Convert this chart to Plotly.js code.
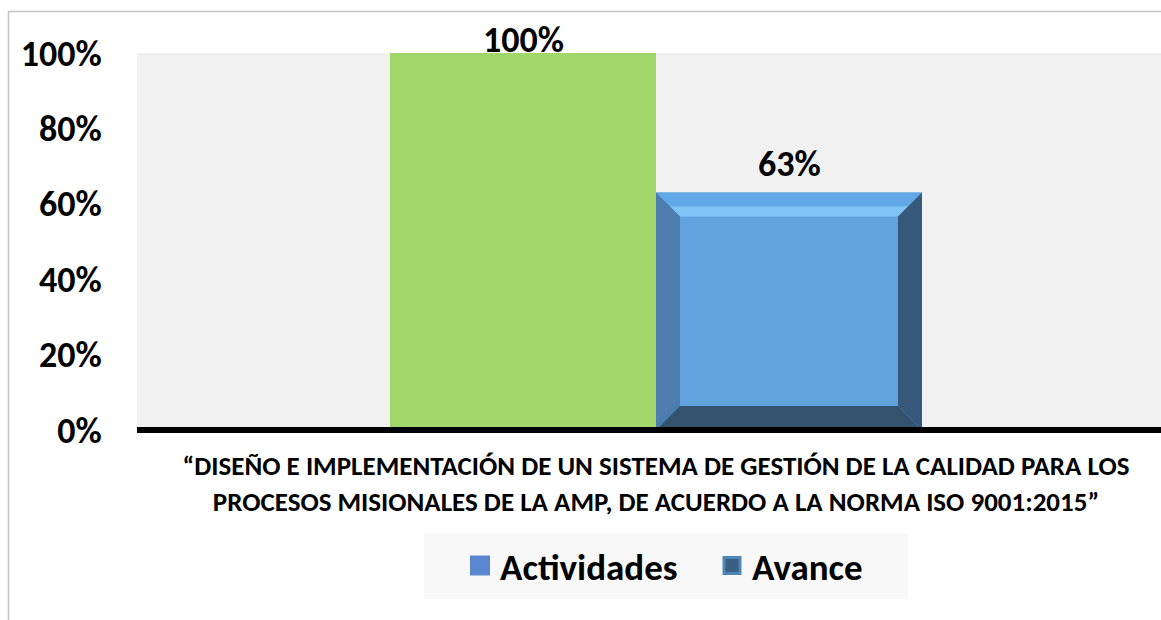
<!DOCTYPE html>
<html><head><meta charset="utf-8">
<script src="https://cdn.plot.ly/plotly-3.0.1.min.js"></script>
<style>html,body{margin:0;padding:0;background:#fff;overflow:hidden}</style>
</head><body><div id="chart" style="width:1161px;height:620px"></div>
<script>
const categories = ["“DISEÑO E IMPLEMENTACIÓN DE UN SISTEMA DE GESTIÓN DE LA CALIDAD PARA LOS<br>PROCESOS MISIONALES DE LA AMP, DE ACUERDO A LA NORMA ISO 9001:2015”"];
const seriesNames = ["Actividades", "Avance"];
const actividades = [1.00];
const avance = [0.63];
const yTickVals = [0, 0.2, 0.4, 0.6, 0.8, 1.0];
const yTickText = ["0%", "20%", "40%", "60%", "80%", "100%"];

const FONT = "Carlito, Lato, 'Open Sans', sans-serif";
const W = 1161, H = 620;
const M = {l: 137, r: 0, t: 53, b: 187};
const PW = W - M.l - M.r, PH = H - M.t - M.b;
const xRange = [-0.5, 0.4865];
const yRange = [-3 / 377, 1];
const bargap = 0.4875;
const groupW = 1 - bargap;

const green = '#a1d76a', blue = '#62a3df';

const traces = [
  {type: 'bar', name: seriesNames[0], x: categories, y: actividades, marker: {color: green},
   showlegend: false, hoverinfo: 'none'},
  {type: 'bar', name: seriesNames[1], x: categories, y: avance, marker: {color: blue},
   showlegend: false, hoverinfo: 'none'},
  {type: 'scatter', mode: 'markers', name: seriesNames[0], x: [null], y: [null],
   marker: {symbol: 'square', size: 16, color: '#5b86d0', line: {color: '#5b86d0', width: 4}}},
  {type: 'scatter', mode: 'markers', name: seriesNames[1], x: [null], y: [null],
   marker: {symbol: 'square', size: 16, color: '#3b5f80', line: {color: '#4f86ba', width: 3}}}
];

// value labels above each bar (category index 0, offset by half a bar within the group)
const labelShift = [13, 28];
const annotations = [actividades, avance].map((vals, i) => ({
  xref: 'x', yref: 'y', x: (i === 0 ? -1 : 1) * groupW / 4, y: vals[0],
  text: Math.round(vals[0] * 100) + '%', showarrow: false, yanchor: 'middle', yshift: labelShift[i],
  font: {family: FONT, size: 36, color: '#000', weight: 'bold'}
}));

// bevel decoration on the "Avance" bar, computed from its value
const xpp = (xRange[1] - xRange[0]) / PW, ypp = (yRange[1] - yRange[0]) / PH;
const bx0 = 0, bx1 = groupW / 2, by0 = 0, by1 = avance[0];
const d = 24, dx = d * xpp, dy = d * ypp;
function poly(pts, fill) {
  return {type: 'path', xref: 'x', yref: 'y', layer: 'above', line: {width: 0}, fillcolor: fill,
    path: 'M' + pts.map(p => p[0] + ',' + p[1]).join(' L') + ' Z'};
}
const hx = 14 * xpp, hy = 14 * ypp;
const shapes = [
  poly([[bx0, by1], [bx1, by1], [bx1 - dx, by1 - dy], [bx0 + dx, by1 - dy]], '#62a8e6'),
  poly([[bx0 + hx, by1 - hy], [bx1 - hx, by1 - hy], [bx1 - dx, by1 - dy], [bx0 + dx, by1 - dy]], '#80c4f6'),
  poly([[bx0, by0], [bx0, by1], [bx0 + dx, by1 - dy], [bx0 + dx, by0 + dy]], '#4b7cad'),
  poly([[bx1, by0], [bx1, by1], [bx1 - dx, by1 - dy], [bx1 - dx, by0 + dy]], '#36597b'),
  poly([[bx0, by0], [bx1, by0], [bx1 - dx, by0 + dy], [bx0 + dx, by0 + dy]], '#34536f'),
  // outer chart border (left + top)
  {type: 'path', xref: 'paper', yref: 'paper', layer: 'below', line: {color: '#c4c4c4', width: 1.5},
   path: 'M' + ((8.5 - M.l) / PW) + ',' + ((M.t + PH - 625) / PH) + ' L' + ((8.5 - M.l) / PW) + ',' + ((M.t + PH - 11.5) / PH) + ' L' + ((W + 5 - M.l) / PW) + ',' + ((M.t + PH - 11.5) / PH)},
  // legend background
  {type: 'rect', xref: 'paper', yref: 'paper', layer: 'below', line: {width: 0}, fillcolor: '#f8f8f8',
   x0: (424 - M.l) / PW, x1: (908 - M.l) / PW, y0: (M.t + PH - 599) / PH, y1: (M.t + PH - 533) / PH},
  // thick baseline
  {type: 'line', xref: 'paper', yref: 'y', layer: 'above', x0: 0, x1: 1, y0: 0, y1: 0,
   line: {color: '#000', width: 6}}
];

const layout = {
  width: W, height: H, margin: M,
  paper_bgcolor: '#ffffff', plot_bgcolor: '#f1f1f1',
  barmode: 'group', bargap: bargap, bargroupgap: 0,
  font: {family: FONT, color: '#000'},
  showlegend: true,
  legend: {orientation: 'h', x: (460 - M.l) / PW, xanchor: 'left', y: (M.t + PH - 566) / PH, yanchor: 'middle',
    bgcolor: 'rgba(0,0,0,0)', font: {family: FONT, size: 37, color: '#000', weight: 'bold'}, entrywidth: 207},
  xaxis: {type: 'category', range: xRange, showgrid: false, zeroline: false, showline: false,
    ticks: 'outside', ticklen: 9, tickcolor: 'rgba(0,0,0,0)',
    tickfont: {family: FONT, size: 27, color: '#000', weight: 'bold'}, fixedrange: true},
  yaxis: {range: yRange, tickvals: yTickVals, ticktext: yTickText, showgrid: false, zeroline: false,
    showline: false, ticks: 'outside', ticklen: 27, tickcolor: 'rgba(0,0,0,0)',
    tickfont: {family: FONT, size: 36, color: '#000', weight: 'bold'}, fixedrange: true},
  annotations: annotations,
  shapes: shapes
};

Plotly.newPlot('chart', traces, layout, {displayModeBar: false, staticPlot: true});
</script>
</body></html>
